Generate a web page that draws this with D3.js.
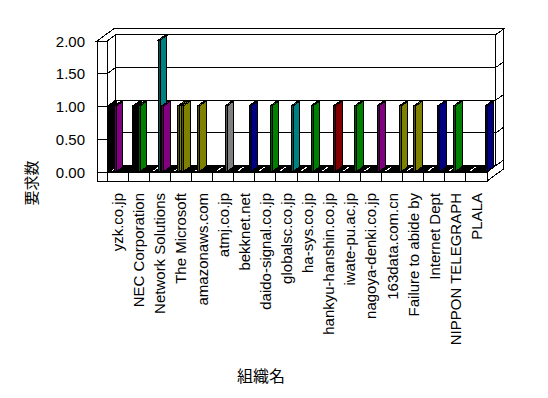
<!DOCTYPE html>
<html>
<head>
<meta charset="utf-8">
<script src="https://cdn.jsdelivr.net/npm/d3@7"></script>
<style>
  html, body { margin: 0; padding: 0; background: #ffffff; }
  svg { display: block; }
</style>
</head>
<body>
<script>
// ---------------- data ----------------
const categories = [
  "yzk.co.jp", "NEC Corporation", "Network Solutions", "The Microsoft",
  "amazonaws.com", "atmj.co.jp", "bekknet.net", "daido-signal.co.jp",
  "globalsc.co.jp", "ha-sys.co.jp", "hankyu-hanshin.co.jp", "iwate-pu.ac.jp",
  "nagoya-denki.co.jp", "163data.com.cn", "Failure to abide by", "Internet Dept",
  "NIPPON TELEGRAPH", "PLALA"
];
// request counts per organisation (one entry per non-zero series)
const requestCounts = [
  [1, 1], [1, 1], [2, 1], [1, 1], [1], [1], [1], [1], [1],
  [1], [1], [1], [1], [1], [1], [1], [1], [1]
];
// series (of 16) each count belongs to
const seriesOf = [
  [0, 5], [3, 7], [6, 9], [5, 8], [4], [9], [11], [11], [11],
  [10], [11], [11], [12], [13], [8], [10], [6], [14]
];
const seriesCount = 16;
const yTicks = [0, 0.5, 1, 1.5, 2];
const yTickLabels = ["0.00", "0.50", "1.00", "1.50", "2.00"];
const yTitle = "要求数";
const xTitle = "組織名";

// ---------------- styles ----------------
const pointColors = [
  ["#000000", "#800080"], ["#000000", "#008000"], ["#008080", "#800080"],
  ["#808000", "#808000"], ["#808000"], ["#808080"], ["#000080"], ["#008000"],
  ["#008080"], ["#008000"], ["#800000"], ["#008000"], ["#800080"],
  ["#808000"], ["#808000"], ["#000080"], ["#008000"], ["#000080"]
];

const W = 548, H = 398;
const svg = d3.select("body").append("svg")
  .attr("width", W).attr("height", H)
  .style("background", "#fff");

const x = d3.scaleBand().domain(categories).range([107, 487]).paddingInner(0).paddingOuter(0);
const slot = d3.scaleLinear().domain([0, seriesCount]).range([0, x.bandwidth()]);
const y = d3.scaleLinear().domain([0, 2]).range([172, 41]);

// oblique depth projection
const DX = 8.7, DY = 6.3;      // plot depth
const TZ = 0.92;               // back wall thickness (in depth units)
const LW = 10;                 // left wall thickness
const FT = 9;                  // floor thickness (px)
const X0 = x.range()[0], X1 = x.range()[1];
function P(px, v, z, extraY) {
  return [px + z * DX, (v === null ? extraY : y(v)) - z * DY];
}
function poly(pts) { return "M" + pts.map(p => p[0] + "," + p[1]).join("L") + "Z"; }
function line(a, b) { return "M" + a[0] + "," + a[1] + "L" + b[0] + "," + b[1]; }

const g = svg.append("g").attr("shape-rendering", "crispEdges");
const stroke = "#000";
const yBottom = y(0) + FT;

// back wall front face
g.append("path").attr("d", poly([P(X0, 0, 1), P(X1, 0, 1), P(X1, 2, 1), P(X0, 2, 1)]))
  .attr("fill", "#fff").attr("stroke", stroke);
// combined top face of left wall + back wall
g.append("path").attr("d", poly([
  P(X0 - LW, 2, 0), P(X0 - LW, 2, 1 + TZ), P(X1, 2, 1 + TZ), P(X1, 2, 1), P(X0, 2, 1), P(X0, 2, 0)
])).attr("fill", "#fff").attr("stroke", stroke);
// back wall right side face
g.append("path").attr("d", poly([P(X1, 2, 1), P(X1, 2, 1 + TZ), P(X1, 0, 1 + TZ), P(X1, 0, 1)]))
  .attr("fill", "#fff").attr("stroke", stroke);
// floor right side face
g.append("path").attr("d", poly([P(X1, 0, 0), P(X1, 0, 1 + TZ), P(X1, null, 1 + TZ, yBottom), P(X1, null, 0, yBottom)]))
  .attr("fill", "#fff").attr("stroke", stroke);
// left wall inner face
g.append("path").attr("d", poly([P(X0, 0, 0), P(X0, 0, 1), P(X0, 2, 1), P(X0, 2, 0)]))
  .attr("fill", "#fff").attr("stroke", stroke);
// left wall front face
g.append("path").attr("d", poly([[X0 - LW, y(2)], [X0, y(2)], [X0, yBottom], [X0 - LW, yBottom]]))
  .attr("fill", "#fff").attr("stroke", stroke);
// floor top face
g.append("path").attr("d", poly([P(X0, 0, 0), P(X1, 0, 0), P(X1, 0, 1), P(X0, 0, 1)]))
  .attr("fill", "#fff").attr("stroke", stroke);
// floor front face
g.append("path").attr("d", poly([[X0, y(0)], [X1, y(0)], [X1, yBottom], [X0, yBottom]]))
  .attr("fill", "#fff").attr("stroke", stroke);

// gridlines
yTicks.forEach(v => {
  g.append("path").attr("d", line([X0 - LW, y(v)], [X0, y(v)])).attr("stroke", stroke);
  if (v > 0 && v < 2) {
    g.append("path").attr("d", line(P(X0, v, 0), P(X0, v, 1))).attr("stroke", stroke);
    g.append("path").attr("d", line(P(X0, v, 1), P(X1, v, 1))).attr("stroke", stroke);
    g.append("path").attr("d", line(P(X1, v, 1), P(X1, v, 1 + TZ))).attr("stroke", stroke);
  }
});
// floor front cell dividers
categories.forEach((c, i) => {
  if (i > 0) g.append("path").attr("d", line([x(c), y(0)], [x(c), yBottom])).attr("stroke", stroke);
});

// floor: zero-height series footprint (dark) with gaps between clusters
const ZF = 0.1, ZB = 0.85, BW = 2;
const FZF = 0.04, FZB = 0.96;
g.append("path").attr("d", poly([P(X0, 0, FZF), P(X1, 0, FZF), P(X1, 0, FZB), P(X0, 0, FZB)]))
  .attr("fill", "#000").attr("stroke", "none");
categories.forEach(c => {
  const gx = x(c) + 2;
  g.append("path").attr("d", poly([P(gx, 0, 0.2), P(gx + 1.8, 0, 0.2), P(gx + 1.8, 0, 0.8), P(gx, 0, 0.8)]))
    .attr("fill", "#fff").attr("stroke", "none");
});

// bars
const bars = [];
categories.forEach((c, i) => {
  requestCounts[i].forEach((v, j) => {
    bars.push({ cat: c, value: v, series: seriesOf[i][j], color: pointColors[i][j] });
  });
});
bars.sort((a, b) => (x(a.cat) + slot(a.series)) - (x(b.cat) + slot(b.series)));

const barG = g.selectAll("g.bar").data(bars).join("g").attr("class", "bar");
barG.each(function (d) {
  const sel = d3.select(this);
  const bx = x(d.cat) + slot(d.series);
  const v = d.value;
  const base = d3.color(d.color);
  const dark = base.darker(1.2).formatHex();
  // side face
  sel.append("path").attr("d", poly([P(bx + BW, 0, ZF), P(bx + BW, 0, ZB), P(bx + BW, v, ZB), P(bx + BW, v, ZF)]))
    .attr("fill", d.color).attr("stroke", stroke);
  // top face
  sel.append("path").attr("d", poly([P(bx, v, ZF), P(bx + BW, v, ZF), P(bx + BW, v, ZB), P(bx, v, ZB)]))
    .attr("fill", d.color).attr("stroke", stroke);
  // front face
  sel.append("path").attr("d", poly([P(bx, 0, ZF), P(bx + BW, 0, ZF), P(bx + BW, v, ZF), P(bx, v, ZF)]))
    .attr("fill", dark).attr("stroke", stroke);
});

// texts
const font = "'Liberation Sans', Arial, sans-serif";
const cjk = "'Noto Sans CJK JP', 'Noto Sans CJK SC', sans-serif";
svg.append("g").selectAll("text").data(yTicks).join("text")
  .attr("x", 85).attr("y", d => y(d))
  .attr("text-anchor", "end").attr("dominant-baseline", "central")
  .attr("font-family", font).attr("font-size", 15).attr("fill", "#000")
  .text((d, i) => yTickLabels[i]);

svg.append("g").selectAll("text").data(categories).join("text")
  .attr("transform", d => `translate(${x(d) + x.bandwidth() / 2},193) rotate(-90)`)
  .attr("text-anchor", "end").attr("dominant-baseline", "central")
  .attr("font-family", font).attr("font-size", 15).attr("fill", "#000")
  .text(d => d);

svg.append("text")
  .attr("transform", "translate(30,183) rotate(-90)")
  .attr("text-anchor", "middle").attr("dominant-baseline", "central")
  .attr("font-family", cjk).attr("font-size", 15).attr("fill", "#000")
  .text(yTitle);

svg.append("text")
  .attr("x", 261).attr("y", 375)
  .attr("text-anchor", "middle").attr("dominant-baseline", "central")
  .attr("font-family", cjk).attr("font-size", 16).attr("fill", "#000")
  .text(xTitle);
</script>
</body>
</html>
